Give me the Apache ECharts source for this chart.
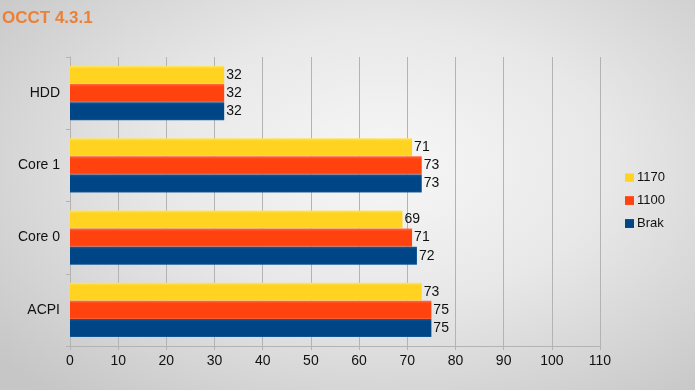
<!DOCTYPE html>
<html>
<head>
<meta charset="utf-8">
<script src="https://cdn.jsdelivr.net/npm/echarts@6/dist/echarts.min.js"></script>
<style>
  html, body { margin: 0; padding: 0; }
  #chart {
    width: 695px; height: 390px;
    background: radial-gradient(ellipse 72% 78% at 55% 42%, #f7f7f7 0%, #e8e8e8 45%, #c6c6c6 100%);
  }
</style>
</head>
<body>
<div id="chart"></div>
<script>
'use strict';
var categories = ['HDD', 'Core 1', 'Core 0', 'ACPI'];
var seriesNames = ['1170', '1100', 'Brak'];
var values1170 = [32, 71, 69, 73];
var values1100 = [32, 73, 71, 75];
var valuesBrak = [32, 73, 72, 75];
var xTicks = [0, 110, 10]; // min, max, interval

function grad(mid, light) {
    return new echarts.graphic.LinearGradient(0, 0, 0, 1, [
        {offset: 0, color: light},
        {offset: 0.15, color: mid},
        {offset: 0.92, color: mid},
        {offset: 1, color: light}
    ]);
}

var colors = [
    grad('#ffd320', '#ffe466'),
    grad('#ff420e', '#ff6a40'),
    grad('#004586', '#1a5a98')
];
var legendColors = ['#ffd320', '#ff420e', '#004586'];

function makeSeries(name, data, i) {
    return {
        name: name,
        type: 'bar',
        data: data,
        barGap: '0%',
        barCategoryGap: '25%',
        itemStyle: {color: colors[i]},
        label: {
            show: true,
            position: 'right',
            distance: 2,
            color: '#111',
            fontFamily: 'Liberation Sans',
            fontSize: 14
        }
    };
}

var chart = echarts.init(document.getElementById('chart'));
chart.setOption({
    backgroundColor: 'transparent',
    animation: false,
    color: legendColors,
    title: {
        text: 'OCCT 4.3.1',
        left: -3,
        top: 5,
        textStyle: {
            color: '#ee8035',
            fontFamily: 'Liberation Sans',
            fontSize: 17,
            fontWeight: 'bold'
        }
    },
    legend: {
        orient: 'vertical',
        left: 620,
        top: 166,
        itemWidth: 9,
        itemHeight: 9,
        itemGap: 10,
        icon: 'rect',
        data: seriesNames,
        textStyle: {
            color: '#111',
            fontFamily: 'Liberation Sans',
            fontSize: 13,
            padding: [0, 0, 0, -2]
        }
    },
    grid: {left: 70, right: 95, top: 57, bottom: 44, containLabel: false},
    xAxis: {
        type: 'value',
        min: xTicks[0],
        max: xTicks[1],
        interval: xTicks[2],
        axisLine: {show: true, lineStyle: {color: '#b3b3b3'}},
        axisTick: {show: true, length: 4, lineStyle: {color: '#b3b3b3'}},
        splitLine: {show: true, lineStyle: {color: '#b3b3b3'}},
        axisLabel: {
            color: '#111',
            fontFamily: 'Liberation Sans',
            fontSize: 14,
            margin: 8
        }
    },
    yAxis: {
        type: 'category',
        inverse: true,
        data: categories,
        axisLine: {show: true, lineStyle: {color: '#b3b3b3'}},
        axisTick: {show: true, length: 4, lineStyle: {color: '#b3b3b3'}},
        axisLabel: {
            color: '#111',
            fontFamily: 'Liberation Sans',
            fontSize: 14,
            margin: 10
        }
    },
    series: [
        makeSeries(seriesNames[0], values1170, 0),
        makeSeries(seriesNames[1], values1100, 1),
        makeSeries(seriesNames[2], valuesBrak, 2)
    ]
});
</script>
</body>
</html>
